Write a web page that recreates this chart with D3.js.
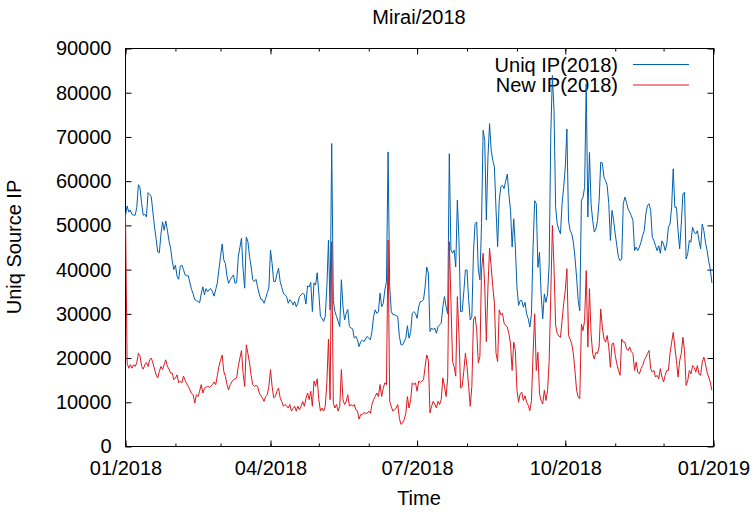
<!DOCTYPE html>
<html>
<head>
<meta charset="utf-8">
<script src="https://cdn.jsdelivr.net/npm/d3@7"></script>
<style>
	body { margin: 0; background: #fff; }
	svg { display: block; font-family: 'Liberation Sans', Arial, sans-serif; }
</style>
</head>
<body>
<div id="chart"></div>
<script>
// ----------------------------- DATA (one value per day of 2018) -----------------------------

const firstDay = new Date(2018, 0, 1);

const uniqIP = [
	52300, 54400, 53000, 53500, 52500, 52300, 52300, 54000, 59200, 58500,
	55000, 52300, 52500, 51900, 57400, 57000, 56500, 53000, 49700, 47000,
	44000, 43800, 48000, 50800, 48900, 51000, 48900, 46500, 44800, 42000,
	40000, 41000, 38500, 37800, 40800, 41000, 40000, 38800, 38600, 38600,
	37000, 35500, 34500, 33200, 33000, 32800, 32500, 34500, 36100, 34300,
	35700, 35000, 35500, 35700, 35000, 34000, 35500, 37000, 40000, 43000,
	45800, 42200, 41400, 38500, 36900, 37700, 38300, 38800, 36900, 37100,
	42900, 45000, 47100, 40000, 35800, 47400, 46300, 43000, 40600, 37700,
	37300, 37800, 36100, 34500, 33300, 33200, 32400, 33500, 34800, 35800,
	44400, 41400, 37300, 37300, 39000, 40300, 37300, 36000, 34700, 34200,
	33900, 32400, 33200, 32800, 32000, 32800, 31600, 32400, 33900, 34300,
	34700, 34300, 32200, 36300, 36100, 37100, 30500, 37000, 36500, 39300,
	34700, 29400, 29000, 28300, 29400, 36100, 46700, 30900, 68500, 33000,
	30500, 29400, 28300, 27100, 37700, 31600, 28600, 30100, 31000, 27100,
	26800, 26600, 24500, 24900, 24100, 22600, 23700, 24100, 23700, 24300,
	24900, 24500, 24100, 26000, 29400, 30900, 30100, 30500, 34700, 31600,
	32400, 35400, 37300, 66600, 36100, 30500, 29800, 29800, 29600, 29400,
	24900, 23000, 23000, 23700, 24500, 27300, 24500, 25800, 30100, 30500,
	30100, 29000, 31600, 32800, 32800, 33200, 36100, 40600, 39200, 26000,
	26800, 26400, 26800, 25600, 27100, 27500, 27900, 31600, 33900, 31600,
	30000, 66200, 44400, 43700, 44400, 40600, 55700, 46700, 30500, 30500,
	35000, 39900, 39900, 33200, 28600, 29400, 44000, 50400, 50800, 39900,
	37700, 50400, 71500, 69200, 51200, 65500, 73000, 67000, 64700, 63200,
	53500, 45200, 55700, 58700, 59100, 58300, 60000, 61600, 57000, 53400,
	45100, 51500, 45100, 36000, 31900, 33000, 33000, 31500, 32600, 30000,
	28900, 27000, 30000, 45100, 55600, 54900, 40500, 43900, 34500, 28900,
	34500, 32600, 34500, 41300, 70700, 83900, 76000, 54100, 50300, 49000,
	48100, 54900, 58600, 63200, 71800, 51100, 48800, 48100, 46200, 42800,
	38300, 33000, 30700, 55600, 56400, 58600, 82000, 51900, 66500, 54900,
	51100, 48500, 49200, 51100, 55600, 64300, 64100, 60900, 60100, 59000,
	54900, 46600, 53400, 51100, 48100, 45400, 42800, 42000, 42400, 54900,
	56400, 55200, 53700, 53000, 52200, 51100, 44300, 45100, 44300, 45100,
	46200, 47700, 48800, 52600, 54500, 54900, 53400, 47300, 46600, 45400,
	44300, 45400, 43700, 46500, 45800, 44300, 45800, 49600, 50300, 54100,
	62800, 54100, 54100, 48800, 44700, 50300, 57100, 57500, 42400, 43600,
	46600, 46200, 49600, 48500, 48100, 48800, 46600, 44700, 50300, 48800,
	46200, 44300, 42000, 40200, 37000,
];

const newIP = [
	52300, 18900, 17700, 18500, 17700, 18500, 18100, 18900, 21100, 20500,
	18100, 17500, 18500, 19000, 18100, 19600, 20000, 18900, 17500, 16200,
	15500, 17000, 18100, 17400, 18500, 19600, 18100, 17500, 16600, 16600,
	15100, 15500, 16200, 14400, 14800, 14400, 15900, 15000, 14200, 13600,
	12800, 12000, 11700, 9800, 11700, 11300, 12500, 14000, 12100, 13200,
	13400, 13600, 13400, 13600, 14000, 14600, 14000, 16000, 18100, 19500,
	20700, 17000, 15900, 14000, 12800, 14000, 14600, 15100, 15300, 15500,
	18100, 20000, 21700, 16500, 13600, 23000, 21000, 18900, 16000, 14000,
	13600, 13800, 13600, 12100, 11500, 11000, 10200, 11300, 11700, 13600,
	17400, 13600, 11000, 11300, 12500, 13200, 11000, 10200, 9100, 9500,
	9200, 8700, 9500, 8000, 8600, 9100, 8000, 9100, 8300, 9100,
	10200, 9100, 10800, 12100, 10600, 12500, 9100, 14800, 13600, 15300,
	10600, 8000, 8700, 8000, 9100, 14400, 24300, 10600, 46300, 9800,
	8700, 9500, 8000, 9100, 17400, 10600, 9500, 10200, 11700, 9100,
	9500, 9100, 9500, 8300, 8000, 6200, 7200, 7200, 7700, 7500,
	7500, 8000, 7500, 9500, 10600, 11300, 12100, 11300, 14000, 11300,
	13200, 14400, 14000, 46700, 10200, 9000, 8000, 8300, 8700, 9500,
	6400, 5000, 5300, 6100, 7500, 11300, 8700, 10500, 14400, 14000,
	14400, 12500, 14800, 14500, 14800, 15100, 18100, 20700, 19500, 7600,
	9100, 10200, 9600, 8700, 10200, 9500, 10600, 15500, 13600, 11300,
	15500, 46300, 33200, 19200, 18100, 15900, 33900, 25300, 13200, 13600,
	17000, 21100, 18100, 13600, 9100, 13600, 28600, 29400, 26400, 18900,
	20400, 39900, 43700, 36100, 23700, 36100, 44800, 40600, 36100, 32400,
	21100, 19200, 30900, 29800, 30100, 27900, 27400, 27000, 25500, 23200,
	17200, 23600, 21700, 12700, 10000, 11900, 12300, 10400, 11500, 10000,
	9300, 8100, 10400, 21000, 30000, 17200, 21300, 11900, 10400, 9600,
	12700, 10400, 12700, 19400, 34500, 50000, 40500, 27400, 25500, 25000,
	24700, 28500, 32300, 35300, 40200, 25100, 24300, 23200, 21000, 17200,
	12700, 11200, 10800, 27700, 26200, 28500, 39800, 22500, 35700, 25500,
	21000, 19800, 21300, 21000, 22500, 31100, 27000, 24300, 23600, 25100,
	22500, 17900, 23200, 23400, 20600, 18700, 17200, 16100, 24300, 23600,
	23600, 22100, 21700, 22500, 21500, 21000, 17200, 19100, 16800, 16400,
	17600, 18300, 19400, 20200, 21000, 21700, 17600, 16800, 17200, 15700,
	16100, 15300, 17600, 15700, 14600, 16100, 17200, 17200, 21000, 23500,
	25800, 22500, 19400, 15700, 19400, 21000, 24700, 21700, 13800, 14900,
	17200, 16400, 18300, 17900, 16800, 18300, 16400, 16100, 19100, 20200,
	18700, 16800, 15700, 14600, 12700,
];

const seriesNames = ['Uniq IP(2018)', 'New IP(2018)'];
const seriesColors = ['#0060ad', '#dd181f'];
const yTicks = [0, 10000, 20000, 30000, 40000, 50000, 60000, 70000, 80000, 90000];
const xMajorTicks = [new Date(2018, 0, 1), new Date(2018, 3, 1), new Date(2018, 6, 1), new Date(2018, 9, 1), new Date(2019, 0, 1)];

// ----------------------------- SVG -----------------------------

const width = 754;
const height = 512;
const margin = { top: 48.5, right: 40.5, bottom: 65.5, left: 125.5 };

const svg = d3.select('#chart').append('svg').attr('width', width).attr('height', height);

const x = d3
	.scaleTime()
	.domain([new Date(2018, 0, 1), new Date(2019, 0, 1)])
	.range([margin.left, width - margin.right]);
const y = d3
	.scaleLinear()
	.domain([0, 90000])
	.range([height - margin.bottom, margin.top]);

const fmt = d3.timeFormat('%m/%Y');
const months = d3.timeMonth.range(new Date(2018, 0, 1), new Date(2019, 0, 2));

const styleAxis = (g) => {
	g.select('.domain').remove();
	g.selectAll('line').attr('stroke', '#000');
	g.selectAll('text').attr('fill', '#000').attr('font-size', 20).attr('font-family', "'Liberation Sans', Arial, sans-serif");
};

// left + right
svg.append('g')
	.attr('transform', `translate(${margin.left},0)`)
	.call(d3.axisLeft(y).tickValues(yTicks).tickSize(-6).tickPadding(14).tickFormat(d3.format('d')))
	.call(styleAxis);
svg.append('g')
	.attr('transform', `translate(${width - margin.right},0)`)
	.call(d3.axisRight(y).tickValues(yTicks).tickSize(-6).tickFormat(''))
	.call(styleAxis);

// bottom + top, minor monthly ticks and major quarterly ticks
svg.append('g')
	.attr('transform', `translate(0,${height - margin.bottom})`)
	.call(d3.axisBottom(x).tickValues(months).tickSize(-3).tickFormat(''))
	.call(styleAxis);
svg.append('g')
	.attr('transform', `translate(0,${height - margin.bottom})`)
	.call(d3.axisBottom(x).tickValues(xMajorTicks).tickSize(-6).tickPadding(14).tickFormat(fmt))
	.call(styleAxis);
svg.append('g')
	.attr('transform', `translate(0,${margin.top})`)
	.call(d3.axisTop(x).tickValues(months).tickSize(-3).tickFormat(''))
	.call(styleAxis);
svg.append('g')
	.attr('transform', `translate(0,${margin.top})`)
	.call(d3.axisTop(x).tickValues(xMajorTicks).tickSize(-6).tickFormat(''))
	.call(styleAxis);

// border
svg.append('rect')
	.attr('x', margin.left)
	.attr('y', margin.top)
	.attr('width', width - margin.right - margin.left)
	.attr('height', height - margin.bottom - margin.top)
	.attr('fill', 'none')
	.attr('stroke', '#000')
	.attr('stroke-width', 1);

// titles
svg.append('text').attr('x', 419).attr('y', 24).attr('text-anchor', 'middle').attr('font-size', 20).text('Mirai/2018');
svg.append('text').attr('x', 419).attr('y', 505).attr('text-anchor', 'middle').attr('font-size', 20).text('Time');
svg.append('text')
	.attr('transform', 'translate(21,247) rotate(-90)')
	.attr('text-anchor', 'middle')
	.attr('font-size', 20)
	.text('Uniq Source IP');

// legend
const legend = svg.append('g');
seriesNames.forEach((name, i) => {
	legend.append('text')
		.attr('x', 618)
		.attr('y', 71.5 + i * 20)
		.attr('text-anchor', 'end')
		.attr('font-size', 20)
		.text(name);
	legend.append('line')
		.attr('x1', 633)
		.attr('x2', 689)
		.attr('y1', 64.5 + i * 20.5)
		.attr('y2', 64.5 + i * 20.5)
		.attr('stroke', seriesColors[i])
		.attr('stroke-width', 1);
});

// lines
const line = d3
	.line()
	.x((d, i) => x(d3.timeDay.offset(firstDay, i)))
	.y((d) => y(d));

[uniqIP, newIP].forEach((values, i) => {
	svg.append('path')
		.datum(values)
		.attr('fill', 'none')
		.attr('stroke', seriesColors[i])
		.attr('stroke-width', 1)
		.attr('stroke-linejoin', 'miter')
		.attr('d', line);
});
</script>
</body>
</html>
